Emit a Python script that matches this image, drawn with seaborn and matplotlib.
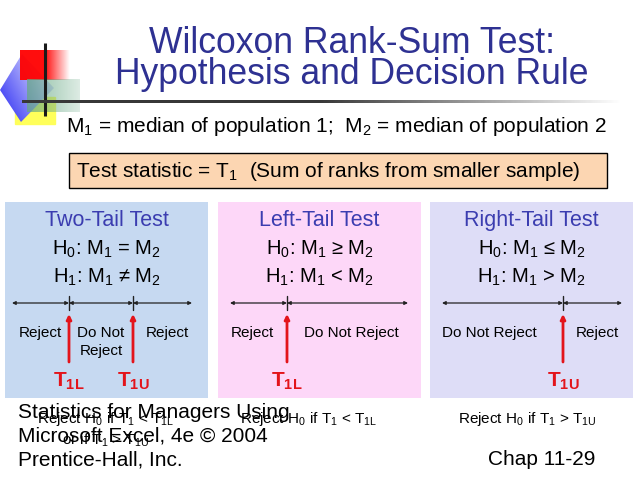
import matplotlib
matplotlib.use("Agg")
import matplotlib.pyplot as plt
import seaborn as sns
import numpy as np
from matplotlib.patches import Rectangle, Polygon

sns.set_style("white")
plt.rcParams["font.family"] = ["Liberation Sans", "DejaVu Sans"]
plt.rcParams["mathtext.fontset"] = "custom"
plt.rcParams["mathtext.rm"] = "Liberation Sans"
plt.rcParams["mathtext.it"] = "Liberation Sans:italic"
plt.rcParams["mathtext.bf"] = "Liberation Sans:bold"
plt.rcParams["mathtext.default"] = "regular"

# ---- content ----
title_lines = ["Wilcoxon Rank-Sum Test:", "Hypothesis and Decision Rule"]
definition = r"M$_1$ = median of population 1;  M$_2$ = median of population 2"
statistic = r"Test statistic = T$_1$  (Sum of ranks from smaller sample)"
panel_titles = ["Two-Tail Test", "Left-Tail Test", "Right-Tail Test"]
h0_labels = [r"H$_0$: M$_1$ = M$_2$", r"H$_0$: M$_1$ ≥ M$_2$", r"H$_0$: M$_1$ ≤ M$_2$"]
h1_labels = [r"H$_1$: M$_1$ ≠ M$_2$", r"H$_1$: M$_1$ < M$_2$", r"H$_1$: M$_1$ > M$_2$"]
region_labels = [
    [["Reject"], ["Do Not", "Reject"], ["Reject"]],
    [["Reject"], ["Do Not Reject"]],
    [["Do Not Reject"], ["Reject"]],
]
critical_labels = [[r"T$_\mathbf{1L}$", r"T$_\mathbf{1U}$"], [r"T$_\mathbf{1L}$"], [r"T$_\mathbf{1U}$"]]
decision_rules = [
    [r"Reject H$_0$ if T$_1$ < T$_{1L}$", r"or if T$_1$ > T$_{1U}$"],
    [r"Reject H$_0$ if T$_1$ < T$_{1L}$"],
    [r"Reject H$_0$ if T$_1$ > T$_{1U}$"],
]
footer_lines = ["Statistics for Managers Using", "Microsoft Excel, 4e © 2004", "Prentice-Hall, Inc."]
chapter = "Chap 11-29"

# ---- layout ----
panel_left = [5, 218, 430]
panel_width = 203
panel_colors = ["#C6D9F1", "#FDD7F8", "#DEDDF7"]
line_spans = [(12, 192), (230, 408), (442, 622)]
crit_x = [[69, 133], [287], [563]]
region_x = [[40, 101, 167], [252, 351], [489, 597]]
rule_x = [106, 309, 527]

title_color = "#2E3192"
panel_title_color = "#3B3DB0"
red = "#E3141B"

fig = plt.figure(figsize=(6.38, 4.79), dpi=100)
ax = fig.add_axes([0, 0, 1, 1])
ax.set_xlim(0, 638)
ax.set_ylim(479, 0)
ax.axis("off")

# ---- logo ----
ax.add_patch(Rectangle((15, 97), 40, 27, color="#FFFF5A", zorder=1))
diamond = Polygon([(22, 54), (54, 88), (21, 122), (0, 90)], closed=True, facecolor="none",
                  edgecolor="none", zorder=2)
ax.add_patch(diamond)
gx, gy = np.meshgrid(np.linspace(0, 1, 60), np.linspace(0, 1, 70))
t = np.clip((gx * 0.9 + (1 - gy) * 0.6) / 1.3, 0, 1)
c0 = np.array([0.15, 0.15, 0.95])
c1 = np.array([0.90, 0.90, 1.0])
blue_img = c0[None, None, :] * (1 - t[..., None]) + c1[None, None, :] * t[..., None]
im = ax.imshow(blue_img, extent=(0, 54, 122, 54), aspect="auto", zorder=2)
im.set_clip_path(diamond)
red_img = np.zeros((1, 100, 4))
red_img[..., 0] = 1.0
xs = np.linspace(0, 1, 100)
red_img[0, :, 3] = np.where(xs < 0.5, 0.95, 0.95 * (1 - (xs - 0.5) / 0.5))
ax.imshow(red_img, extent=(20, 70, 80, 50), aspect="auto", zorder=3, interpolation="bilinear")
g_img = np.zeros((1, 100, 4))
g_img[..., 0], g_img[..., 1], g_img[..., 2] = 0.40, 0.66, 0.52
g_img[0, :, 3] = 0.75 * (1 - 0.7 * xs)
ax.imshow(g_img, extent=(27, 80, 112, 79), aspect="auto", zorder=4, interpolation="bilinear")
ax.plot([45, 45], [43, 116], color="#1a1a1a", lw=2.2, zorder=6, solid_capstyle="butt")
line_img = np.zeros((1, 400, 4))
line_img[..., :3] = 0.22
lx = np.linspace(22, 622, 400)
line_img[0, :, 3] = np.clip((622 - lx) / 300, 0, 1)
ax.imshow(line_img, extent=(22, 622, 102.5, 99.5), aspect="auto", zorder=6, interpolation="bilinear")

# ---- title & header ----
ax.text(352, 53, title_lines[0], ha="center", va="baseline", fontsize=25.6, color=title_color, zorder=7)
ax.text(352, 84, title_lines[1], ha="center", va="baseline", fontsize=25.6, color=title_color, zorder=7)
ax.text(66, 132, definition, ha="left", va="baseline", fontsize=15, color="black")
ax.add_patch(Rectangle((69, 153), 538, 35, facecolor="#FCD6B2", edgecolor="black", lw=1))
ax.text(76, 177, statistic, ha="left", va="baseline", fontsize=15, color="black")

# ---- panels ----
for i in range(3):
    x0 = panel_left[i]
    cx = x0 + panel_width / 2
    ax.add_patch(Rectangle((x0, 202), panel_width, 196, facecolor=panel_colors[i], edgecolor="none"))
    ax.text(cx, 226, panel_titles[i], ha="center", va="baseline", fontsize=15.5, color=panel_title_color)
    ax.text(cx, 255, h0_labels[i], ha="center", va="baseline", fontsize=14.5, color="black")
    ax.text(cx, 283, h1_labels[i], ha="center", va="baseline", fontsize=14.5, color="black")
    pts = [line_spans[i][0]] + crit_x[i] + [line_spans[i][1]]
    for a, b in zip(pts[:-1], pts[1:]):
        ax.annotate("", xy=(b, 303), xytext=(a, 303),
                    arrowprops=dict(arrowstyle="<|-|>", lw=0.9, color="#222222",
                                    mutation_scale=5, shrinkA=0, shrinkB=0))
    for j, xc in enumerate(crit_x[i]):
        ax.plot([xc, xc], [296, 310], color="#222222", lw=1)
        ax.annotate("", xy=(xc, 314), xytext=(xc, 362),
                    arrowprops=dict(arrowstyle="-|>", lw=2, color=red,
                                    mutation_scale=7, shrinkA=0, shrinkB=0))
        ax.text(xc, 387, critical_labels[i][j], ha="center", va="baseline", fontsize=15,
                fontweight="bold", color=red)
    for lines, rx in zip(region_labels[i], region_x[i]):
        for k, s in enumerate(lines):
            ax.text(rx, 337 + 18 * k, s, ha="center", va="baseline", fontsize=11, color="black")
    for k, s in enumerate(decision_rules[i]):
        ax.text(rule_x[i], 423 + 22 * k, s, ha="center", va="baseline", fontsize=11, color="black")

# ---- footer ----
for k, s in enumerate(footer_lines):
    ax.text(18, 418 + 23.5 * k, s, ha="left", va="baseline", fontsize=15, color="black")
ax.text(595, 465, chapter, ha="right", va="baseline", fontsize=15, color="black")

fig.savefig("out.png", dpi=100)
